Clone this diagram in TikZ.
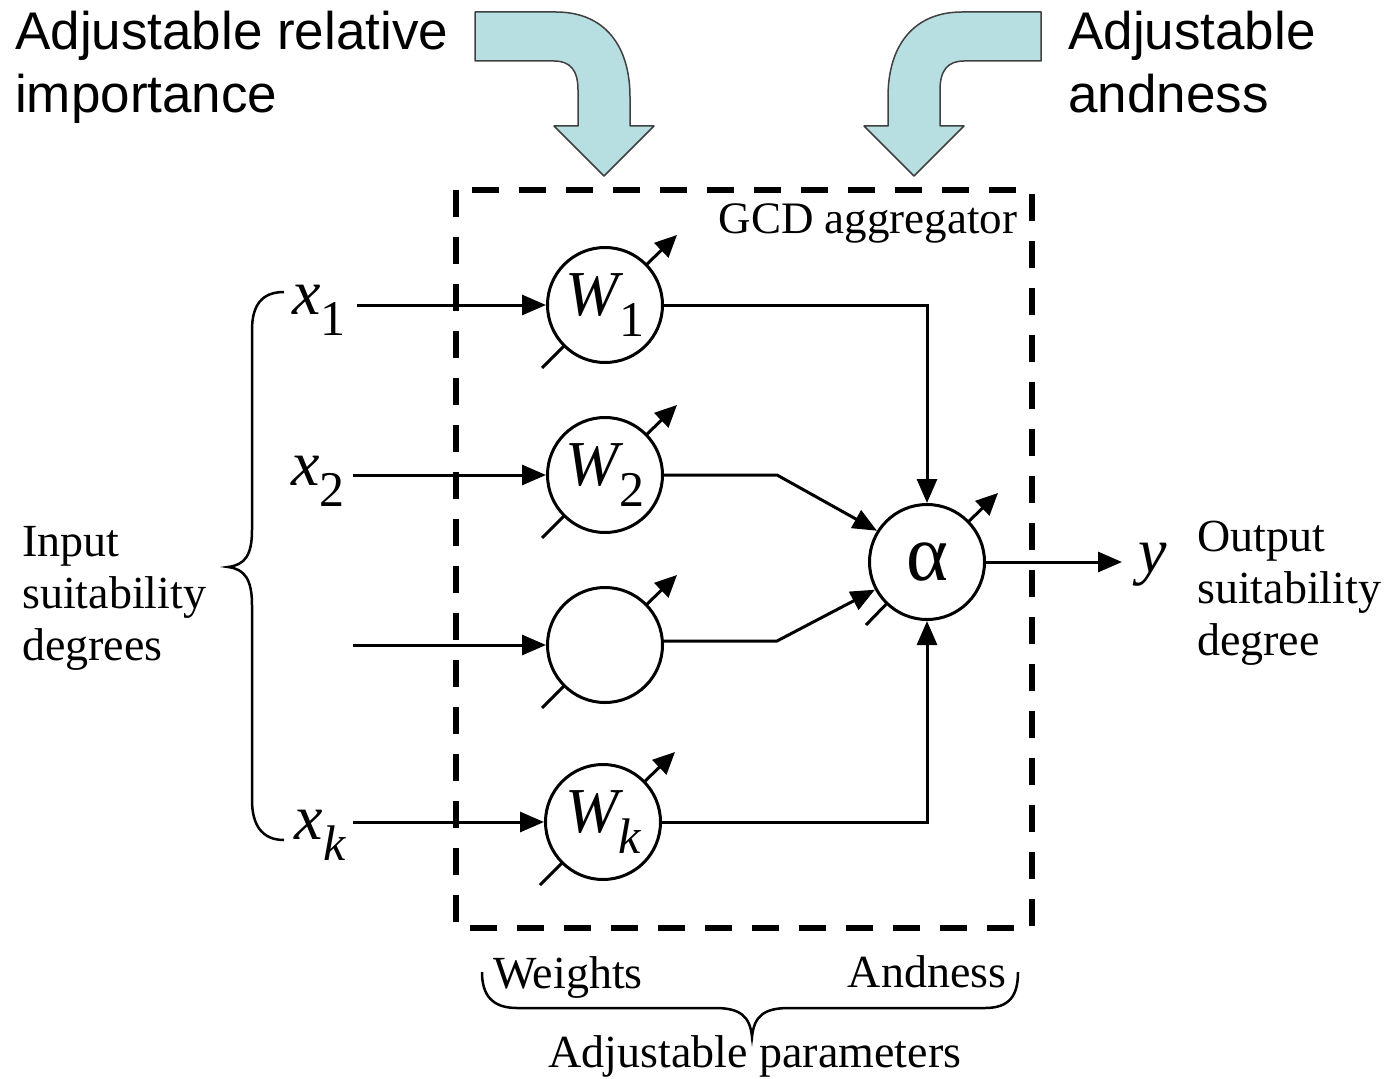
\documentclass[tikz,border=0pt]{standalone}
\usepackage{fontspec}
\setmainfont{Liberation Serif}
\newfontfamily\sansf{Liberation Sans}
\usetikzlibrary{arrows.meta,calc}
\definecolor{paleteal}{HTML}{B7DEE0}
\newcommand\lowsub[1]{\raisebox{-0.34em}{\fontsize{50}{50}\selectfont #1}}
\begin{document}
\begin{tikzpicture}[x=1pt,y=-1pt,
  wire/.style={line width=3pt},
  arr/.style={wire,-{Triangle[length=24pt,width=20pt]}},
  adj/.style={line width=3pt,-{Triangle[length=22pt,width=20pt]}},
  unit/.style={circle,draw,line width=3pt,fill=white,minimum size=115pt,inner sep=0pt,
    font=\fontsize{64}{64}\selectfont},
  lbl/.style={inner sep=0pt,font=\fontsize{46}{52}\selectfont},
  var/.style={inner sep=0pt,font=\fontsize{64}{64}\selectfont},
  bigsans/.style={inner sep=0pt,align=left,font=\sansf\fontsize{53}{63}\selectfont},
  bentarrow/.style={fill=paleteal,draw=black!75,line width=1.5pt,line join=round},
  bracepath/.style={line width=2.5pt}]
\useasboundingbox (0,0) rectangle (1388,1078);

% top captions
\node[bigsans,anchor=north west] (relimp) at (15,11) {Adjustable relative\\importance};
\node[bigsans,anchor=north west] (andlbl) at (1068,11) {Adjustable\\andness};

% curved arrows feeding the aggregator
\path[bentarrow] (475,12) -- (556,12) .. controls (604,12) and (630,45) .. (630,97) -- (630,126)
  -- (654,126) -- (604,176) -- (554,126) -- (578,126) -- (578,90)
  .. controls (578,70) and (570,61) .. (554,61) -- (475,61) -- cycle;
\path[bentarrow] (1041,12) -- (962,12) .. controls (914,12) and (888,45) .. (888,97) -- (888,126)
  -- (864,126) -- (914,176) -- (964,126) -- (940,126) -- (940,90)
  .. controls (940,70) and (948,61) .. (964,61) -- (1041,61) -- cycle;

% dashed aggregator boundary
\draw[line width=6pt,dash pattern=on 27pt off 20pt] (456,190) rectangle (1032,928);
\node[lbl,font=\fontsize{45}{50}\selectfont] (gcd) at (868,223) {GCD aggregator};

% adjustable knobs (drawn under the units)
\foreach \cx/\cy in {605/305,605/475,605/645,603/822}{
  \draw[line width=3pt] (\cx-63,\cy+63) -- (\cx,\cy);
  \draw[adj] (\cx,\cy) -- (\cx+72,\cy-70);
}
\draw[line width=3pt] (866,625) -- (927,562);
\draw[adj] (927,562) -- (998,493);

% weighting units and the aggregation unit
\node[unit] (w1) at (605,305) {\itshape W\lowsub{\upshape 1}};
\node[unit] (w2) at (605,475) {\itshape W\lowsub{\upshape 2}};
\node[unit] (w3) at (605,645) {};
\node[unit] (wk) at (603,822) {\itshape W\lowsub{k}};
\node[unit,font=\fontsize{80}{80}\selectfont] (al) at (927,562) {α};

% inputs
\node[var,anchor=base] (x1) at (319,314) {\itshape x\lowsub{\upshape 1}};
\node[var,anchor=base] (x2) at (318,485) {\itshape x\lowsub{\upshape 2}};
\node[var,anchor=base] (xk) at (320,839) {\itshape x\lowsub{k}};
\coordinate (i1) at (357,305);
\coordinate (i2) at (353,475);
\coordinate (i3) at (353,645);
\coordinate (ik) at (353,822);
\draw[arr] (i1) -- (w1.west);
\draw[arr] (i2) -- (w2.west);
\draw[arr] (i3) -- (w3.west);
\draw[arr] (ik) -- (wk.west);

% weighted signals into the aggregator
\coordinate (b2) at (777,475);
\coordinate (b3) at (777,641);
\draw[arr] (w1.east) -| (al.north);
\draw[arr] (w2.east) -- (b2) -- (al.148);
\draw[arr] (w3.east |- b3) -- (b3) -- (al.208);
\draw[arr] (wk.east) -| (al.south);

% output
\node[var,anchor=west,inner sep=2pt] (yout) at (1120,565) {\itshape\ y};
\draw[arr] (al.east) -- (1122,562);

% side captions
\node[lbl,anchor=west,align=left] (inlbl) at (22,598) {Input\\suitability\\degrees};
\node[lbl,anchor=west,align=left] (outlbl) at (1197,593) {Output\\suitability\\degree};

% left brace grouping the inputs
\draw[bracepath] (284,292) .. controls (262,292) and (252,305) .. (252,330) -- (252,530)
  .. controls (252,555) and (245,565) .. (228,567)
  .. controls (245,569) and (252,580) .. (252,605) -- (252,800)
  .. controls (252,825) and (262,840) .. (284,840);

% bottom brace over the adjustable parameters
\node[lbl] (wts) at (568,977) {Weights};
\node[lbl] (andn) at (927,972) {Andness};
\draw[bracepath] (482,972) .. controls (482,995) and (492,1008) .. (517,1008) -- (715,1008)
  .. controls (740,1008) and (750,1016) .. (752,1037)
  .. controls (754,1016) and (764,1008) .. (789,1008) -- (985,1008)
  .. controls (1010,1008) and (1018,995) .. (1018,972);
\node[lbl] (params) at (755,1056) {Adjustable parameters};
\end{tikzpicture}
\end{document}
